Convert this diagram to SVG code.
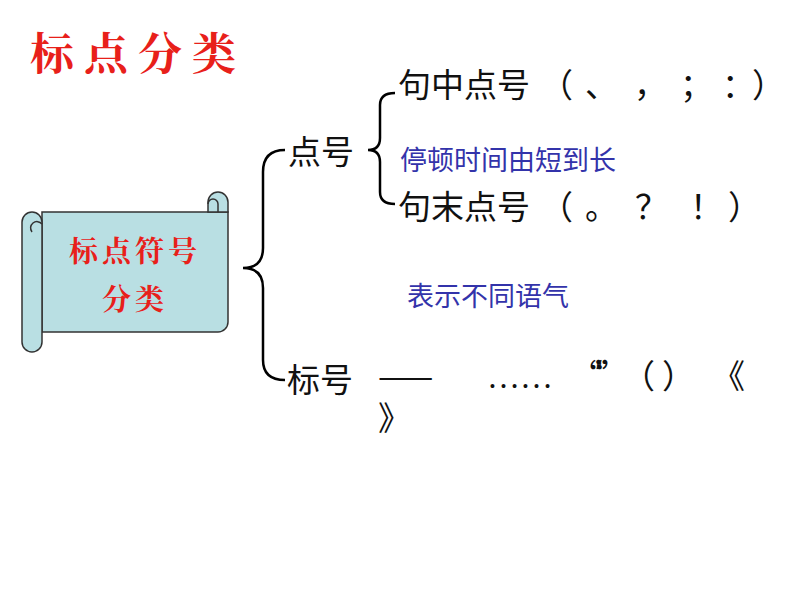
<svg xmlns="http://www.w3.org/2000/svg" width="794" height="596" viewBox="0 0 794 596">
<style>
.t{font-family:"Noto Sans CJK SC",sans-serif;font-size:33px;fill:#111}
.b{font-family:"Noto Sans CJK SC",sans-serif;font-size:27px;fill:#3333aa}
.br{fill:none;stroke:#000;stroke-width:2.5}
.r{font-family:"Noto Serif CJK SC","Noto Sans CJK SC",serif;font-weight:bold;fill:#e8201a}
</style>
<rect width="794" height="596" fill="#fff"/>
<text class="r" x="30" y="70" font-size="44" letter-spacing="10">标点分类</text>
<g id="scroll">
<path d="M42,212 H228 V322 a10,10 0 0 1 -10,10 H42 Z" fill="#b9dfe3" stroke="#333" stroke-width="1.5"/>
<path d="M208,212 V202 a10,10 0 0 1 20,0 V212 Z" fill="#b9dfe3" stroke="#333" stroke-width="1.5"/>
<path d="M208,204 a5,5 0 0 1 10,0 v8" fill="none" stroke="#333" stroke-width="1.5"/>
<path d="M22,222 a10,10 0 0 1 20,0 V342 a10,10 0 0 1 -20,0 Z" fill="#b9dfe3" stroke="#333" stroke-width="1.5"/>
<path d="M32,232 a5,5 0 1 1 10,-8" fill="none" stroke="#333" stroke-width="1.5"/>
<text class="r" x="135" y="262" font-size="29" text-anchor="middle" letter-spacing="4">标点符号</text>
<text class="r" x="135" y="310" font-size="29" text-anchor="middle" letter-spacing="4">分类</text>
</g>
<g id="connectors">
<path class="br" d="M285,150 Q263,150 263,172 V248 Q263,268 243,268 Q263,268 263,288 V360 Q263,380 285,380"/>
<path class="br" d="M395,93 Q380,93 380,105 V138 Q380,150 368,150 Q380,150 380,162 V192 Q380,204 395,204"/>
</g>
<g id="n1"><text class="t" x="288" y="164">点号</text></g>
<g id="n2"><text class="t" y="97"><tspan x="540">（</tspan><tspan x="585">、</tspan><tspan x="634">，</tspan><tspan x="680">；</tspan><tspan x="722">：</tspan><tspan x="752">）</tspan></text><text class="t" x="398" y="97">句中点号</text></g>
<g id="n3"><text class="b" x="400" y="170">停顿时间由短到长</text></g>
<g id="n4"><text class="t" y="219"><tspan x="540">（</tspan><tspan x="585">。</tspan><tspan x="635">？</tspan><tspan x="690">！</tspan><tspan x="728">）</tspan></text><text class="t" x="398" y="219">句末点号</text></g>
<g id="n5"><text class="b" x="407" y="306">表示不同语气</text></g>
<g id="n6"><text class="t" x="287" y="392">标号</text>
<text class="t" y="388"><tspan x="378">——</tspan><tspan x="487" font-family="Liberation Serif">……</tspan><tspan x="570">“</tspan></text>
<text class="t" x="595" y="388">”</text>
<text class="t" x="622" y="388">（</text>
<text class="t" x="662" y="388">）</text>
<text class="t" x="712" y="388">《</text>
<text class="t" x="378" y="430">》</text></g>
</svg>
